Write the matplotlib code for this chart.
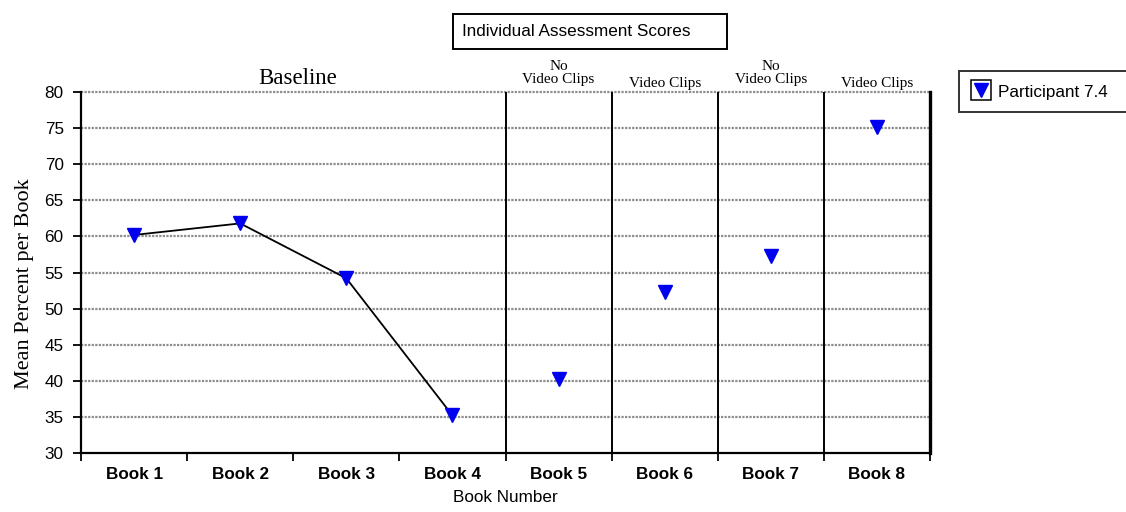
import matplotlib
matplotlib.use("Agg")
import matplotlib.pyplot as plt
from matplotlib.lines import Line2D
from matplotlib.patches import Rectangle
from matplotlib.legend_handler import HandlerTuple

# ---------------------------------------------------------------------------
# Data
# ---------------------------------------------------------------------------
books = ["Book 1", "Book 2", "Book 3", "Book 4",
         "Book 5", "Book 6", "Book 7", "Book 8"]
scores = [60.2, 61.8, 54.2, 35.2, 40.2, 52.3, 57.3, 75.2]
n_baseline = 4
phase_labels = ["No\nVideo Clips", "Video Clips", "No\nVideo Clips", "Video Clips"]
y_ticks = [30, 35, 40, 45, 50, 55, 60, 65, 70, 75, 80]

SANS = "Liberation Sans"
SERIF = "Liberation Serif"
BLUE = "#0000ee"

# ---------------------------------------------------------------------------
# Figure
# ---------------------------------------------------------------------------
fig = plt.figure(figsize=(11.26, 5.12), dpi=100)
ax = fig.add_axes([0.07194, 0.11523, 0.75399, 0.70508])

x = list(range(len(books)))
ax.set_xlim(-0.5, len(books) - 0.5)
ax.set_ylim(30, 80)

# grid
for v in y_ticks[1:]:
    ax.axhline(v, color="#8c8c8c", lw=1.6, ls=(0, (1, 0.6)), zorder=1,
               clip_on=False)

# phase separators
for b in range(n_baseline, len(books)):
    ax.axvline(b - 0.5, color="black", lw=1.4, zorder=2)

# baseline connected, rest markers only
ax.plot(x[:n_baseline], scores[:n_baseline], color="black", lw=1.3, zorder=3)
ax.plot(x, scores, ls="none", marker="v", ms=9.5, color=BLUE,
        markeredgecolor=BLUE, zorder=4)

# spines
ax.spines["top"].set_visible(False)
ax.spines["left"].set_linewidth(1.6)
ax.spines["bottom"].set_linewidth(1.6)
ax.spines["right"].set_linewidth(2.4)

ax.set_yticks(y_ticks)
ax.set_yticklabels([str(v) for v in y_ticks], fontfamily=SANS, fontsize=12.3)
ax.tick_params(axis="y", direction="out", length=6, width=1.3, pad=6.5)

ax.set_xticks([i - 0.5 for i in range(len(books) + 1)], minor=False)
ax.set_xticklabels([])
ax.set_xticks(x, minor=True)
ax.set_xticklabels(books, minor=True, fontfamily=SANS, fontsize=12.3,
                   fontweight="bold")
ax.tick_params(axis="x", which="major", direction="out", length=6, width=1.3)
ax.tick_params(axis="x", which="minor", length=0, pad=10)

ax.set_xlabel("Book Number", fontfamily=SANS, fontsize=12.3, labelpad=6)
ax.set_ylabel("Mean Percent per Book", fontfamily=SERIF, fontsize=16)
ax.yaxis.set_label_coords(-0.055, 0.47)

# phase labels
ax.text((n_baseline - 1) / 2 + 0.04, 80.45, "Baseline", ha="center",
        va="bottom", fontfamily=SERIF, fontsize=16.5)
for i, lab in enumerate(phase_labels):
    y_lab = 80.9 if "\n" in lab else 80.3
    ax.text(n_baseline + i, y_lab, lab, ha="center", va="bottom",
            fontfamily=SERIF, fontsize=11, linespacing=0.95)

# title box
fig.add_artist(Rectangle((0.4023, 0.9043), 0.2433, 0.0684,
                         transform=fig.transFigure, fc="white", ec="black",
                         lw=1.4))
fig.text(0.4103, 0.9385, "Individual Assessment Scores", ha="left",
         va="center", fontfamily=SANS, fontsize=12.3)

# legend
h_box = Line2D([], [], ls="none", marker="s", ms=15, mfc="white",
               mec="black", mew=1.1)
h_tri = Line2D([], [], ls="none", marker="v", ms=10, color=BLUE)
leg = fig.legend([(h_box, h_tri)], ["Participant 7.4"],
                 handler_map={tuple: HandlerTuple(ndivide=1)},
                 loc="upper left", bbox_to_anchor=(0.8517, 0.0, 0.16, 0.8613),
                 mode="expand", frameon=True, fancybox=False,
                 edgecolor="black", prop={"family": SANS, "size": 12.3},
                 handlelength=1.3, handleheight=1.35, handletextpad=0.35,
                 borderpad=0.65, borderaxespad=0.0)
leg.get_frame().set_linewidth(1.4)

fig.savefig("out.png", dpi=100)
